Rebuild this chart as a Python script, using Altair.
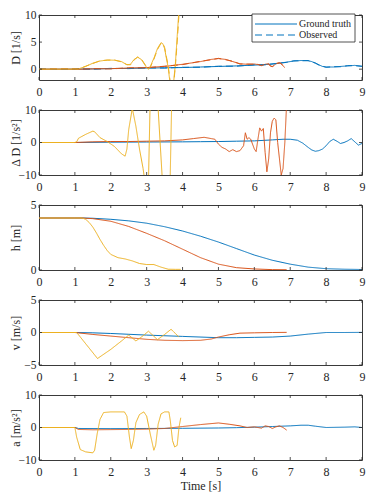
import altair as alt
import pandas as pd

# ---------------- data ----------------
# Panel 1: D [1/s]
D_b_t = [0,0.5,1,1.5,2,2.5,3,3.5,4,4.5,5,5.5,6,6.3,6.6,6.9,7.1,7.3,7.5,7.6,7.7,7.8,7.9,8.0,8.2,8.4,8.6,8.8,9.0]
D_b_v = [0,0,0,0.05,0.1,0.15,0.2,0.25,0.3,0.4,0.5,0.6,0.75,0.85,1.0,1.3,1.5,1.6,1.55,1.4,1.1,0.8,0.5,0.4,0.4,0.5,0.6,0.7,0.5]
D_b_obs = [0.05,-0.05,0.05,0.0,0.15,0.1,0.25,0.2,0.35,0.35,0.55,0.55,0.8,0.8,1.05,1.25,1.55,1.55,1.6,1.35,1.15,0.75,0.55,0.35,0.45,0.45,0.65,0.65,0.55]
D_o_t = [0,1,1.2,1.5,2,2.5,3,3.5,4,4.5,4.8,5,5.2,5.4,5.6,5.8,6.0,6.1,6.2,6.3,6.4,6.45,6.5,6.55,6.6,6.7,6.75,6.8,6.85]
D_o_v = [0,0,0,0.05,0.1,0.2,0.3,0.5,0.9,1.4,1.8,1.95,1.8,1.4,1.0,0.9,0.95,0.85,0.7,0.9,1.0,0.6,0.45,0.7,1.0,1.2,1.0,0.6,0.3]
D_o_obs = [0,0.05,0.0,0.1,0.05,0.25,0.25,0.55,0.85,1.45,1.75,2.0,1.75,1.45,0.95,0.95,0.9,0.9,0.65,0.95,0.95,0.55,0.5,0.65,1.05,1.15,1.05,0.55,0.35]
D_y_t = [0,1,1.1,1.3,1.5,1.7,1.9,2.1,2.3,2.45,2.55,2.65,2.75,2.85,2.95,3.0,3.05,3.1,3.2,3.3,3.4,3.45,3.5,3.55,3.6,3.65,3.7,3.75,3.8,3.85,3.9,3.95]
D_y_v = [0,0,0.05,0.5,1.1,1.5,1.7,1.65,1.4,0.8,0.9,1.8,2.2,1.8,0.8,0.3,0.0,0.5,2.0,3.8,4.9,4.7,3.8,2.0,0.3,-2.5,-3.5,-2.5,1.0,6.0,11.0,18.0]
D_y_obs = [0,0.05,0.0,0.55,1.05,1.55,1.65,1.7,1.35,0.85,0.8,1.7,2.25,1.9,0.9,0.4,0.05,0.35,1.8,3.6,4.8,4.8,4.0,2.3,0.6,-2.0,-3.5,-2.8,0.5,5.0,10.0,17.0]

# Panel 2: Delta D [1/s^2]
dD_b_t = [0,1,2,3,4,4.5,5,5.5,6,6.5,6.8,7.0,7.2,7.35,7.5,7.6,7.7,7.8,7.9,8.0,8.1,8.2,8.3,8.4,8.5,8.6,8.7,8.8,8.9,9.0]
dD_b_v = [0,0,0.1,0.15,0.2,0.25,0.3,0.4,0.5,0.8,1.0,1.0,0.7,-0.2,-1.5,-2.3,-2.7,-2.5,-2.0,-1.0,0.3,1.0,0.4,-0.3,0.0,0.5,1.2,0.2,-0.8,-0.3]
dD_o_t = [0,1,1.5,2,2.5,3,3.5,4,4.3,4.6,4.8,4.9,5.0,5.1,5.2,5.3,5.4,5.5,5.6,5.7,5.75,5.8,5.85,5.9,6.0,6.05,6.1,6.15,6.2,6.25,6.3,6.35,6.4,6.45,6.5,6.55,6.6,6.65,6.7,6.75,6.8,6.85,6.9]
dD_o_v = [0,0,0.2,0.3,0.3,0.4,0.5,0.8,1.2,1.6,1.2,1.0,-0.5,-1.5,-2.0,-2.8,-2.2,-2.8,-2.5,-1.0,3.0,1.0,1.5,1.0,-2.0,-2.8,1.0,4.5,3.5,4.3,-3.0,-9.0,-5.0,3.0,6.5,7.5,7.0,0.0,-5.0,-10.0,-8.0,0.0,12.0]
dD_y_t = [0,1,1.05,1.1,1.3,1.5,1.55,1.7,1.9,2.1,2.3,2.4,2.45,2.5,2.6,2.7,2.8,2.9,2.95,3.05,3.1,3.3,3.45,3.65,3.7]
dD_y_v = [0,0,0.2,1.3,2.5,3.5,3.3,1.5,0.3,-1.2,-3.5,-4.2,-2.0,4.0,10.5,5.0,-2.0,-8.0,-12,-12,14,14,-14,-14,14]

# Panel 3: h [m]
h_b_t = [0,1,1.2,1.5,2,2.5,3,3.5,4,4.5,5,5.5,6,6.5,7,7.5,8,8.5,9]
h_b_v = [4,4,4,3.98,3.9,3.78,3.6,3.33,3.0,2.6,2.15,1.65,1.15,0.75,0.45,0.22,0.1,0.06,0.04]
h_o_t = [0,1,1.2,1.5,2,2.5,3,3.5,4,4.5,5,5.5,6,6.5,6.9]
h_o_v = [4,4,4,3.95,3.75,3.35,2.82,2.25,1.6,0.95,0.45,0.18,0.08,0.03,0.02]
h_y_t = [0,1,1.2,1.3,1.4,1.5,1.6,1.7,1.8,1.9,2.0,2.2,2.4,2.6,2.8,3.0,3.2,3.4,3.6,3.8,3.95]
h_y_v = [4,4,4,3.9,3.65,3.3,2.85,2.35,1.9,1.5,1.2,0.95,0.85,0.7,0.5,0.42,0.42,0.22,0.06,0.05,0.05]

# Panel 4: v [m/s]
v_b_t = [0,1,1.5,2,3,4,5,5.5,6,6.5,7,7.5,8,8.5,9]
v_b_v = [0,0,-0.05,-0.15,-0.4,-0.6,-0.8,-0.8,-0.75,-0.7,-0.55,-0.25,0,0,0.02]
v_o_t = [0,1,1.5,2,2.5,3,3.5,4,4.5,4.8,5,5.3,5.6,6,6.5,6.9]
v_o_v = [0,0,-0.3,-0.55,-0.8,-1.05,-1.2,-1.25,-1.2,-1.0,-0.7,-0.35,-0.1,-0.05,0,0.02]
v_y_t = [0,1.05,1.63,2.0,2.3,2.5,2.7,2.9,3.05,3.3,3.5,3.68,3.9]
v_y_v = [0,0,-4.0,-2.6,-1.3,-0.4,-1.3,-0.5,0.2,-1.1,-0.3,0.5,-0.7]

# Panel 5: a [m/s^2]
a_b_t = [0,1,1.1,2,3,4,5,5.5,6,6.5,7,7.3,7.5,7.7,8,8.5,8.8,9]
a_b_v = [0,0,-0.3,-0.35,-0.3,-0.25,-0.15,-0.05,0.1,0.3,0.5,0.7,0.7,0.4,0,0.1,0.2,0]
a_o_t = [0,1,1.1,1.5,2,2.5,3,3.5,4,4.5,5,5.3,5.6,5.8,6,6.2,6.3,6.4,6.5,6.6,6.7,6.8,6.9]
a_o_v = [0,0,-0.6,-0.7,-0.65,-0.6,-0.5,-0.3,0.3,0.9,1.4,1.0,0.5,0.0,0.2,-0.2,0.5,0.3,-0.3,0.2,0.5,0.0,-0.8]
a_y_t = [0,1.0,1.05,1.15,1.3,1.5,1.55,1.62,1.7,1.8,2.0,2.38,2.45,2.52,2.57,2.63,2.7,2.8,2.92,3.0,3.1,3.2,3.25,3.32,3.4,3.5,3.62,3.66,3.72,3.78,3.85,3.9,3.95]
a_y_v = [0,0,-3.0,-6.8,-7.5,-7.8,-7.0,-2.0,2.5,4.6,4.8,4.8,3.5,-3.0,-6.5,-4.0,1.5,4.0,4.8,3.5,-2.0,-7.0,-5.5,1.0,4.2,4.8,4.8,2.0,-4.0,-6.0,-5.5,0.0,3.0]

x_ticks = [0,1,2,3,4,5,6,7,8,9]
legend_labels = ["Ground truth", "Observed"]

COLORS = ["#0072BD", "#D95319", "#EDB120"]
FONT = "Liberation Serif"
TXT = "#262626"
W, H = 323, 65


def frame(series):
    rows = []
    for c, kind, ts, vs in series:
        for t, v in zip(ts, vs):
            rows.append({"t": t, "v": v, "c": c, "kind": kind})
    return pd.DataFrame(rows)


def panel(series, ydom, yvals, ytitle, legend=False, xtitle=None):
    df = frame(series)
    xs = alt.Scale(domain=[0, 9], nice=False, zero=False)
    ys = alt.Scale(domain=ydom, nice=False, zero=False)
    xaxis = alt.Axis(values=x_ticks, ticks=False, domain=False, grid=False,
                     labelPadding=6, labelFlush=False, labelOverlap=False,
                     title=xtitle if xtitle else "", titlePadding=3,
                     titleFontSize=12, titleFontWeight="normal")
    yaxis = alt.Axis(values=yvals, ticks=False, domain=False, grid=False,
                     labelPadding=3, labelFlush=False, labelOverlap=False,
                     labelFontSize=11.5,
                     title=ytitle, titleX=-17,
                     titleFontSize=12, titleFontWeight="normal")
    X = alt.X("t:Q", scale=xs, axis=xaxis)
    Y = alt.Y("v:Q", scale=ys, axis=yaxis)
    lines = alt.Chart(df).mark_line(clip=True, strokeWidth=1).encode(
        x=X, y=Y,
        color=alt.Color("c:N", scale=alt.Scale(domain=["b", "o", "y"], range=COLORS), legend=None),
        strokeDash=alt.StrokeDash(
            "kind:N",
            scale=alt.Scale(domain=legend_labels, range=[[1, 0], [7, 4]]),
            legend=None,
        ),
    )
    xt = pd.DataFrame({"t": x_ticks})
    yt = pd.DataFrame({"v": yvals})
    tick = dict(color=TXT, strokeWidth=0.8)
    xt_top = alt.Chart(xt).mark_rule(**tick).encode(x=X, y=alt.value(0), y2=alt.value(3))
    xt_bot = alt.Chart(xt).mark_rule(**tick).encode(x=X, y=alt.value(H - 3), y2=alt.value(H))
    yt_l = alt.Chart(yt).mark_rule(**tick).encode(y=Y, x=alt.value(0), x2=alt.value(3))
    yt_r = alt.Chart(yt).mark_rule(**tick).encode(y=Y, x=alt.value(W - 3), x2=alt.value(W))
    layers = [lines, xt_top, xt_bot, yt_l, yt_r]
    if legend:
        ld = pd.DataFrame({"label": legend_labels, "kind": legend_labels})
        bx0 = W - 110
        box = alt.Chart(ld.head(1)).mark_rect(fill="white", stroke=TXT, strokeWidth=0.8).encode(
            x=alt.value(bx0), x2=alt.value(W - 7), y=alt.value(-1), y2=alt.value(27))
        l1 = alt.Chart(ld.head(1)).mark_rule(color="#0072BD", strokeWidth=1).encode(
            x=alt.value(bx0 + 3), x2=alt.value(bx0 + 45), y=alt.value(9))
        l2 = alt.Chart(ld.tail(1)).mark_rule(color="#0072BD", strokeWidth=1, strokeDash=[7, 4]).encode(
            x=alt.value(bx0 + 3), x2=alt.value(bx0 + 45), y=alt.value(20))
        t1 = alt.Chart(ld.head(1)).mark_text(align="left", baseline="middle", font=FONT, fontSize=10, color=TXT).encode(
            x=alt.value(bx0 + 47), y=alt.value(9), text="label:N")
        t2 = alt.Chart(ld.tail(1)).mark_text(align="left", baseline="middle", font=FONT, fontSize=10, color=TXT).encode(
            x=alt.value(bx0 + 47), y=alt.value(20), text="label:N")
        layers += [box, l1, l2, t1, t2]
    return alt.layer(*layers).properties(width=W, height=H)


GT, OB = legend_labels
p1 = panel([
    ("b", GT, D_b_t, D_b_v), ("o", GT, D_o_t, D_o_v), ("y", GT, D_y_t, D_y_v),
    ("b", OB, D_b_t, D_b_obs), ("o", OB, D_o_t, D_o_obs), ("y", OB, D_y_t, D_y_obs),
], [-2, 10], [0, 5, 10], "D  [1/s]", legend=True)
p2 = panel([
    ("b", GT, dD_b_t, dD_b_v), ("o", GT, dD_o_t, dD_o_v), ("y", GT, dD_y_t, dD_y_v),
], [-10, 10], [-10, 0, 10], "Δ D  [1/s²]")
p3 = panel([
    ("b", GT, h_b_t, h_b_v), ("o", GT, h_o_t, h_o_v), ("y", GT, h_y_t, h_y_v),
], [0, 5], [0, 5], "h  [m]")
p4 = panel([
    ("b", GT, v_b_t, v_b_v), ("o", GT, v_o_t, v_o_v), ("y", GT, v_y_t, v_y_v),
], [-5, 5], [-5, 0, 5], "v  [m/s]")
p5 = panel([
    ("b", GT, a_b_t, a_b_v), ("o", GT, a_o_t, a_o_v), ("y", GT, a_y_t, a_y_v),
], [-10, 10], [-10, 0, 10], "a  [m/s²]", xtitle="Time [s]")

chart = alt.vconcat(p1, p2, p3, p4, p5, spacing=5).resolve_scale(
    color="independent", strokeDash="independent"
).properties(
    padding={"left": 0, "top": 0, "right": 0, "bottom": 0}
).configure(
    font=FONT
).configure_view(
    stroke="#3a3a3a", strokeWidth=1
).configure_axis(
    labelFont=FONT, titleFont=FONT, labelFontSize=12, labelColor=TXT, titleColor=TXT
)

chart.save("out.html", embed_options={"renderer": "svg", "actions": False})
